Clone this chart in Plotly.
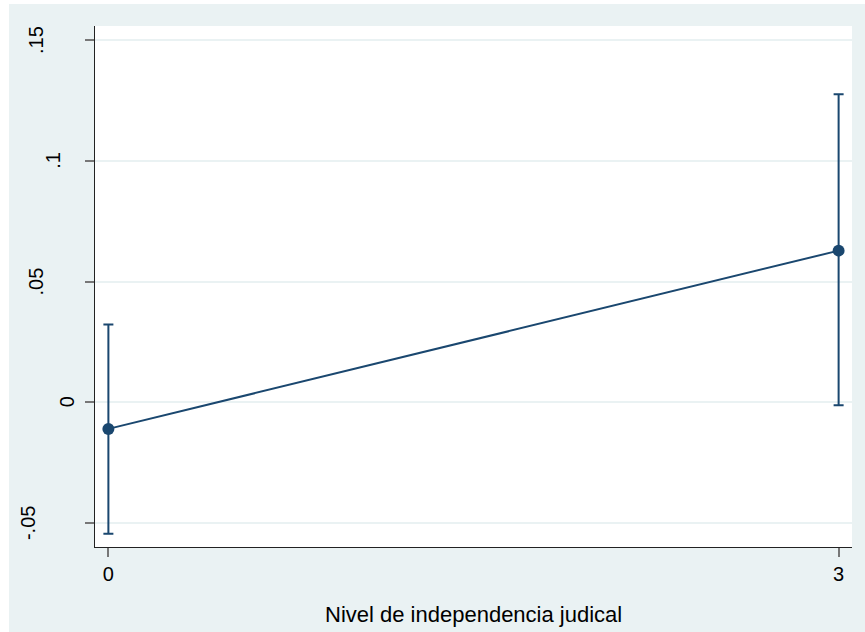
import plotly.graph_objects as go

# Data
x_levels = [0, 3]
margins = [-0.011, 0.0628]
ci_low = [-0.0544, -0.0012]
ci_high = [0.0322, 0.1275]
x_ticks = [0, 3]
x_ticklabels = ["0", "3"]
y_ticks = [-0.05, 0, 0.05, 0.1, 0.15]
y_ticklabels = ["-.05", "0", ".05", ".1", ".15"]
x_title = "Nivel de independencia judical"

# Style: horizontal centre (px) of each rotated y tick label, as drawn in the reference
y_label_centers_px = [28, 67, 36, 53, 36]

NAVY = "#1A476F"
BG = "#EAF2F3"

W, H = 865, 632
L, R, T, B = 95, 13, 26, 85
pw, ph = W - L - R, H - T - B

err_plus = [h - m for h, m in zip(ci_high, margins)]
err_minus = [m - l for m, l in zip(margins, ci_low)]

fig = go.Figure()
fig.add_trace(go.Scatter(
    x=x_levels, y=margins, mode="lines+markers",
    line=dict(color=NAVY, width=2),
    marker=dict(color=NAVY, size=12),
    error_y=dict(type="data", array=err_plus, arrayminus=err_minus,
                 color=NAVY, thickness=2, width=5),
    showlegend=False, hoverinfo="skip",
))

font = "Liberation Sans, Arial, Helvetica, sans-serif"

annotations = [
    dict(text=x_title, xref="paper", yref="paper", x=0.5, y=-(600 - T - ph) / ph,
         xanchor="center", yanchor="top", showarrow=False,
         font=dict(family=font, size=22, color="black")),
]
for val, lab, cx in zip(y_ticks, y_ticklabels, y_label_centers_px):
    annotations.append(dict(
        text=lab, xref="paper", yref="y", x=0, y=val, xshift=cx - L,
        xanchor="center", yanchor="middle", textangle=-90, showarrow=False,
        font=dict(family=font, size=20, color="black"),
    ))

fig.update_layout(
    width=W, height=H,
    margin=dict(l=L, r=R, t=T, b=B, pad=0),
    paper_bgcolor="white",
    plot_bgcolor="rgba(0,0,0,0)",
    font=dict(family=font, size=20, color="black"),
    shapes=[
        dict(type="rect", xref="paper", yref="paper", layer="below",
             x0=(9 - L) / pw, x1=(W - L) / pw + 0.01,
             y0=-(H - T - ph) / ph - 0.01, y1=(ph + T - 4) / ph,
             fillcolor=BG, line=dict(width=0)),
        dict(type="rect", xref="paper", yref="paper", layer="below",
             x0=0, x1=1, y0=0, y1=1,
             fillcolor="white", line=dict(width=0)),
    ],
    annotations=annotations,
)

fig.update_xaxes(
    range=[-0.055, 3.055], tickmode="array", tickvals=x_ticks, ticktext=x_ticklabels,
    showgrid=False, zeroline=False,
    showline=True, linecolor="#222222", linewidth=1.3,
    ticks="outside", ticklen=9, tickwidth=1.5, tickcolor="#777777",
    tickfont=dict(size=20, color="black"),
)
fig.update_yaxes(
    range=[-0.0599, 0.1558], tickmode="array", tickvals=y_ticks, ticktext=y_ticklabels,
    showticklabels=False,
    showgrid=True, gridcolor=BG, gridwidth=1.5, zeroline=False,
    showline=True, linecolor="#222222", linewidth=1.3,
    ticks="outside", ticklen=9, tickwidth=1.5, tickcolor="#777777",
)

fig.write_html("out.html")
